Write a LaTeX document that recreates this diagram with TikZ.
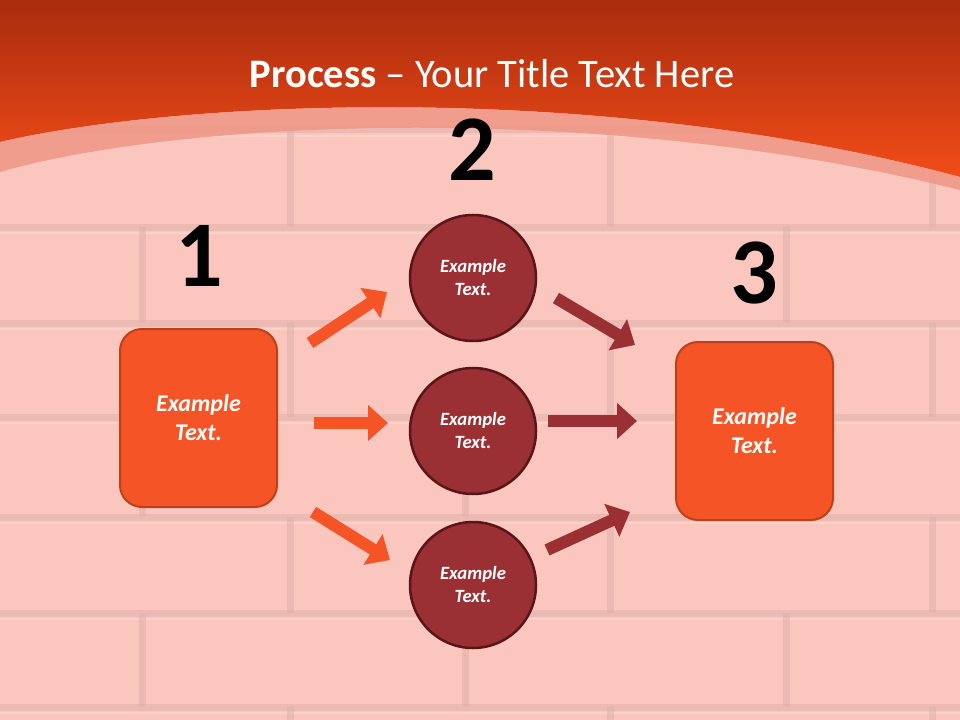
\documentclass[tikz,border=0pt]{standalone}
\usepackage{fontspec}
\setmainfont{Carlito}
\usetikzlibrary{arrows.meta}
\definecolor{bgpink}{RGB}{250,198,189}
\definecolor{mortar}{RGB}{222,176,170}
\definecolor{mortarhi}{RGB}{255,221,214}
\definecolor{hdrtop}{RGB}{168,44,14}
\definecolor{hdrbot}{RGB}{242,76,24}
\definecolor{bandcol}{RGB}{240,150,134}
\definecolor{boxfill}{RGB}{245,84,38}
\definecolor{boxedge}{RGB}{190,64,26}
\definecolor{circfill}{RGB}{154,48,52}
\definecolor{circedge}{RGB}{88,22,24}
\tikzset{
  mortarline/.style={draw=mortar,line width=7bp,opacity=0.5},
  mortarlight/.style={draw=mortarhi,line width=2bp,opacity=0.5},
  stepbox/.style={draw=boxedge,fill=boxfill,line width=2bp,rounded corners=22bp,
    minimum width=157bp,minimum height=178bp,inner sep=0pt,align=center,text=white,
    font=\fontsize{24bp}{29bp}\selectfont\bfseries\itshape},
  stepcirc/.style={circle,draw=circedge,fill=circfill,line width=2.5bp,
    minimum size=126bp,inner sep=0pt,align=center,text=white,
    font=\fontsize{18.7bp}{23bp}\selectfont\bfseries\itshape},
  stepnum/.style={inner sep=0pt,text=black,font=\fontsize{94bp}{94bp}\selectfont\bfseries},
  blockarrow/.style={line width=12bp,-{Triangle[length=20bp,width=35bp]}},
  orangearrow/.style={blockarrow,draw=boxfill},
  redarrow/.style={blockarrow,draw=circfill}
}
\begin{document}
\begin{tikzpicture}[x=1bp,y=-1bp]
\useasboundingbox (0,0) rectangle (960,720);
\fill[bgpink] (0,0) rectangle (960,720);
% brick mortar
\foreach \y in {130,227,323,417,517,613,707}{
  \draw[mortarline] (0,\y) -- (960,\y);
  \draw[mortarlight] (0,\y+6) -- (960,\y+6);
}
\foreach \x in {290,610,932}{
  \draw[mortarline] (\x,130) -- (\x,227);
  \draw[mortarline] (\x,323) -- (\x,417);
  \draw[mortarline] (\x,517) -- (\x,613);
  \draw[mortarline] (\x,707) -- (\x,720);
}
\foreach \x in {142,465,786}{
  \draw[mortarline] (\x,227) -- (\x,323);
  \draw[mortarline] (\x,417) -- (\x,517);
  \draw[mortarline] (\x,613) -- (\x,707);
}
% header
\shade[top color=hdrtop,bottom color=hdrbot]
  (0,0) -- (960,0) -- (960,177) .. controls (600,80) and (180,100) .. (0,142) -- cycle;
\fill[bandcol,opacity=0.85]
  (0,142) .. controls (180,100) and (600,80) .. (960,177) -- (960,190)
  .. controls (600,100) and (180,120) .. (0,172) -- cycle;
\node[anchor=base,text=white,inner sep=0pt,font=\fontsize{40.5bp}{44bp}\selectfont] (title) at (492,88)
  {\textbf{Process} – Your Title Text Here};
% numbers
\node[stepnum] (n1) at (199,256) {1};
\node[stepnum] (n2) at (472,150) {2};
\node[stepnum] (n3) at (754,273) {3};
% boxes and circles
\node[stepbox] (b1) at (198.5,418) {Example\\Text.};
\node[stepbox] (b3) at (754.5,431) {Example\\Text.};
\node[stepcirc] (c1) at (473,278) {Example\\Text.};
\node[stepcirc] (c2) at (473,431) {Example\\Text.};
\node[stepcirc] (c3) at (473,585) {Example\\Text.};
% arrow end points
\coordinate (la1s) at (310,343);
\coordinate (la1e) at (387,292);
\coordinate (la2s) at (314,423);
\coordinate (la2e) at (388,423);
\coordinate (la3s) at (313,512);
\coordinate (la3e) at (390,560);
\coordinate (ra1s) at (556,298);
\coordinate (ra1e) at (635,345);
\coordinate (ra2s) at (548,421);
\coordinate (ra2e) at (637,421);
\coordinate (ra3s) at (547,550);
\coordinate (ra3e) at (630,512);
\draw[orangearrow] (la1s) -- (la1e);
\draw[orangearrow] (la2s) -- (la2e);
\draw[orangearrow] (la3s) -- (la3e);
\draw[redarrow] (ra1s) -- (ra1e);
\draw[redarrow] (ra2s) -- (ra2e);
\draw[redarrow] (ra3s) -- (ra3e);
\end{tikzpicture}
\end{document}
